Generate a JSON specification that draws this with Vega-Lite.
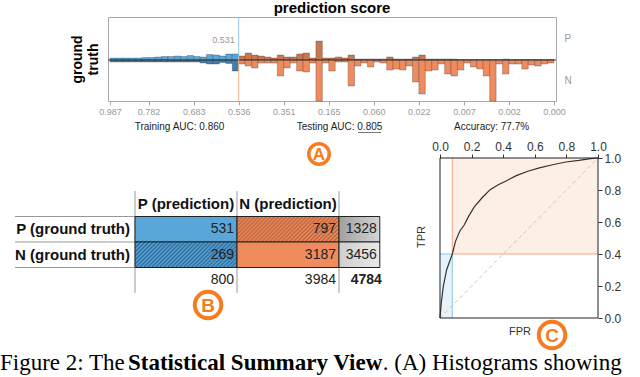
{
"$schema": "https://vega.github.io/schema/vega-lite/v6.json",
"background": "white",
"padding": 0,
"spacing": 2,
"config": {"font": "Liberation Sans", "view": {"stroke": null}},
"datasets": {
"hist": [
{"bin_start":0,"bin_end":1,"outcome":"TP","signed_count":2},{"bin_start":0,"bin_end":1,"outcome":"FP","signed_count":-2},
{"bin_start":1,"bin_end":2,"outcome":"TP","signed_count":2},{"bin_start":1,"bin_end":2,"outcome":"FP","signed_count":-2},
{"bin_start":2,"bin_end":3,"outcome":"TP","signed_count":2},{"bin_start":2,"bin_end":3,"outcome":"FP","signed_count":-2},
{"bin_start":3,"bin_end":4,"outcome":"TP","signed_count":2},{"bin_start":3,"bin_end":4,"outcome":"FP","signed_count":-2},
{"bin_start":4,"bin_end":5,"outcome":"TP","signed_count":2},{"bin_start":4,"bin_end":5,"outcome":"FP","signed_count":-2},
{"bin_start":5,"bin_end":6,"outcome":"TP","signed_count":2.5},{"bin_start":5,"bin_end":6,"outcome":"FP","signed_count":-2},
{"bin_start":6,"bin_end":7,"outcome":"TP","signed_count":2.5},{"bin_start":6,"bin_end":7,"outcome":"FP","signed_count":-2},
{"bin_start":7,"bin_end":8,"outcome":"TP","signed_count":3},{"bin_start":7,"bin_end":8,"outcome":"FP","signed_count":-2},
{"bin_start":8,"bin_end":9,"outcome":"TP","signed_count":3.5},{"bin_start":8,"bin_end":9,"outcome":"FP","signed_count":-2},
{"bin_start":9,"bin_end":10,"outcome":"TP","signed_count":3.5},{"bin_start":9,"bin_end":10,"outcome":"FP","signed_count":-2},
{"bin_start":10,"bin_end":11,"outcome":"TP","signed_count":4},{"bin_start":10,"bin_end":11,"outcome":"FP","signed_count":-2},
{"bin_start":11,"bin_end":12,"outcome":"TP","signed_count":3.5},{"bin_start":11,"bin_end":12,"outcome":"FP","signed_count":-2},
{"bin_start":12,"bin_end":13,"outcome":"TP","signed_count":4.5},{"bin_start":12,"bin_end":13,"outcome":"FP","signed_count":-2},
{"bin_start":13,"bin_end":14,"outcome":"TP","signed_count":3.5},{"bin_start":13,"bin_end":14,"outcome":"FP","signed_count":-2},
{"bin_start":14,"bin_end":15,"outcome":"TP","signed_count":3},{"bin_start":14,"bin_end":15,"outcome":"FP","signed_count":-3},
{"bin_start":15,"bin_end":16,"outcome":"TP","signed_count":5.5},{"bin_start":15,"bin_end":16,"outcome":"FP","signed_count":-4},
{"bin_start":16,"bin_end":17,"outcome":"TP","signed_count":5},{"bin_start":16,"bin_end":17,"outcome":"FP","signed_count":-4},
{"bin_start":17,"bin_end":18,"outcome":"TP","signed_count":4},{"bin_start":17,"bin_end":18,"outcome":"FP","signed_count":-2.5},
{"bin_start":18,"bin_end":19,"outcome":"TP","signed_count":6},{"bin_start":18,"bin_end":19,"outcome":"FP","signed_count":-3.5},
{"bin_start":19,"bin_end":20,"outcome":"TP","signed_count":6},{"bin_start":19,"bin_end":20,"outcome":"FP","signed_count":-11},
{"bin_start":20,"bin_end":21,"outcome":"FN","signed_count":4},{"bin_start":20,"bin_end":21,"outcome":"TN","signed_count":-4},
{"bin_start":21,"bin_end":22,"outcome":"FN","signed_count":7},{"bin_start":21,"bin_end":22,"outcome":"TN","signed_count":-6},
{"bin_start":22,"bin_end":23,"outcome":"FN","signed_count":5},{"bin_start":22,"bin_end":23,"outcome":"TN","signed_count":-8},
{"bin_start":23,"bin_end":24,"outcome":"FN","signed_count":4},{"bin_start":23,"bin_end":24,"outcome":"TN","signed_count":-3},
{"bin_start":24,"bin_end":25,"outcome":"FN","signed_count":3},{"bin_start":24,"bin_end":25,"outcome":"TN","signed_count":-3},
{"bin_start":25,"bin_end":26,"outcome":"FN","signed_count":2},{"bin_start":25,"bin_end":26,"outcome":"TN","signed_count":-3},
{"bin_start":26,"bin_end":27,"outcome":"FN","signed_count":5},{"bin_start":26,"bin_end":27,"outcome":"TN","signed_count":-16},
{"bin_start":27,"bin_end":28,"outcome":"FN","signed_count":3},{"bin_start":27,"bin_end":28,"outcome":"TN","signed_count":-8},
{"bin_start":28,"bin_end":29,"outcome":"FN","signed_count":3},{"bin_start":28,"bin_end":29,"outcome":"TN","signed_count":-3},
{"bin_start":29,"bin_end":30,"outcome":"FN","signed_count":6},{"bin_start":29,"bin_end":30,"outcome":"TN","signed_count":-11},
{"bin_start":30,"bin_end":31,"outcome":"FN","signed_count":7},{"bin_start":30,"bin_end":31,"outcome":"TN","signed_count":-12},
{"bin_start":31,"bin_end":32,"outcome":"FN","signed_count":2},{"bin_start":31,"bin_end":32,"outcome":"TN","signed_count":-3},
{"bin_start":32,"bin_end":33,"outcome":"FN","signed_count":19},{"bin_start":32,"bin_end":33,"outcome":"TN","signed_count":-41},
{"bin_start":33,"bin_end":34,"outcome":"FN","signed_count":2},{"bin_start":33,"bin_end":34,"outcome":"TN","signed_count":-3},
{"bin_start":34,"bin_end":35,"outcome":"FN","signed_count":2},{"bin_start":34,"bin_end":35,"outcome":"TN","signed_count":-11},
{"bin_start":35,"bin_end":36,"outcome":"FN","signed_count":3},{"bin_start":35,"bin_end":36,"outcome":"TN","signed_count":-2},
{"bin_start":36,"bin_end":37,"outcome":"FN","signed_count":2},{"bin_start":36,"bin_end":37,"outcome":"TN","signed_count":-2},
{"bin_start":37,"bin_end":38,"outcome":"FN","signed_count":5},{"bin_start":37,"bin_end":38,"outcome":"TN","signed_count":-26},
{"bin_start":38,"bin_end":39,"outcome":"FN","signed_count":1},{"bin_start":38,"bin_end":39,"outcome":"TN","signed_count":-6},
{"bin_start":39,"bin_end":40,"outcome":"FN","signed_count":1},{"bin_start":39,"bin_end":40,"outcome":"TN","signed_count":-3},
{"bin_start":40,"bin_end":41,"outcome":"FN","signed_count":1},{"bin_start":40,"bin_end":41,"outcome":"TN","signed_count":-7},
{"bin_start":41,"bin_end":42,"outcome":"FN","signed_count":1},{"bin_start":41,"bin_end":42,"outcome":"TN","signed_count":-2},
{"bin_start":42,"bin_end":43,"outcome":"FN","signed_count":1},{"bin_start":42,"bin_end":43,"outcome":"TN","signed_count":-3},
{"bin_start":43,"bin_end":44,"outcome":"FN","signed_count":3},{"bin_start":43,"bin_end":44,"outcome":"TN","signed_count":-10},
{"bin_start":44,"bin_end":45,"outcome":"FN","signed_count":1},{"bin_start":44,"bin_end":45,"outcome":"TN","signed_count":-9},
{"bin_start":45,"bin_end":46,"outcome":"FN","signed_count":1},{"bin_start":45,"bin_end":46,"outcome":"TN","signed_count":-10},
{"bin_start":46,"bin_end":47,"outcome":"FN","signed_count":1},{"bin_start":46,"bin_end":47,"outcome":"TN","signed_count":-6},
{"bin_start":47,"bin_end":48,"outcome":"FN","signed_count":3},{"bin_start":47,"bin_end":48,"outcome":"TN","signed_count":-22},
{"bin_start":48,"bin_end":49,"outcome":"FN","signed_count":5},{"bin_start":48,"bin_end":49,"outcome":"TN","signed_count":-34},
{"bin_start":49,"bin_end":50,"outcome":"FN","signed_count":1},{"bin_start":49,"bin_end":50,"outcome":"TN","signed_count":-11},
{"bin_start":50,"bin_end":51,"outcome":"FN","signed_count":1},{"bin_start":50,"bin_end":51,"outcome":"TN","signed_count":-10},
{"bin_start":51,"bin_end":52,"outcome":"FN","signed_count":1},{"bin_start":51,"bin_end":52,"outcome":"TN","signed_count":-4},
{"bin_start":52,"bin_end":53,"outcome":"FN","signed_count":1},{"bin_start":52,"bin_end":53,"outcome":"TN","signed_count":-14},
{"bin_start":53,"bin_end":54,"outcome":"FN","signed_count":1},{"bin_start":53,"bin_end":54,"outcome":"TN","signed_count":-16},
{"bin_start":54,"bin_end":55,"outcome":"FN","signed_count":0.5},{"bin_start":54,"bin_end":55,"outcome":"TN","signed_count":-10},
{"bin_start":55,"bin_end":56,"outcome":"FN","signed_count":0.5},{"bin_start":55,"bin_end":56,"outcome":"TN","signed_count":-3},
{"bin_start":56,"bin_end":57,"outcome":"FN","signed_count":0.5},{"bin_start":56,"bin_end":57,"outcome":"TN","signed_count":-7},
{"bin_start":57,"bin_end":58,"outcome":"FN","signed_count":0.5},{"bin_start":57,"bin_end":58,"outcome":"TN","signed_count":-9},
{"bin_start":58,"bin_end":59,"outcome":"FN","signed_count":0.5},{"bin_start":58,"bin_end":59,"outcome":"TN","signed_count":-16},
{"bin_start":59,"bin_end":60,"outcome":"FN","signed_count":0.5},{"bin_start":59,"bin_end":60,"outcome":"TN","signed_count":-41},
{"bin_start":60,"bin_end":61,"outcome":"FN","signed_count":0.5},{"bin_start":60,"bin_end":61,"outcome":"TN","signed_count":-4},
{"bin_start":61,"bin_end":62,"outcome":"FN","signed_count":1},{"bin_start":61,"bin_end":62,"outcome":"TN","signed_count":-14},
{"bin_start":62,"bin_end":63,"outcome":"FN","signed_count":0.5},{"bin_start":62,"bin_end":63,"outcome":"TN","signed_count":-4},
{"bin_start":63,"bin_end":64,"outcome":"FN","signed_count":0.5},{"bin_start":63,"bin_end":64,"outcome":"TN","signed_count":-4},
{"bin_start":64,"bin_end":65,"outcome":"FN","signed_count":0.5},{"bin_start":64,"bin_end":65,"outcome":"TN","signed_count":-9},
{"bin_start":65,"bin_end":66,"outcome":"FN","signed_count":0.5},{"bin_start":65,"bin_end":66,"outcome":"TN","signed_count":-5},
{"bin_start":66,"bin_end":67,"outcome":"FN","signed_count":0.5},{"bin_start":66,"bin_end":67,"outcome":"TN","signed_count":-6},
{"bin_start":67,"bin_end":68,"outcome":"FN","signed_count":0.5},{"bin_start":67,"bin_end":68,"outcome":"TN","signed_count":-4},
{"bin_start":68,"bin_end":69,"outcome":"FN","signed_count":0.5},{"bin_start":68,"bin_end":69,"outcome":"TN","signed_count":-3}
],
"matrix": [
{"truth":"P","pred":"P","row":0,"col":1,"count":531},
{"truth":"P","pred":"N","row":0,"col":2,"count":797},
{"truth":"P","pred":"total","row":0,"col":3,"count":1328},
{"truth":"N","pred":"P","row":1,"col":1,"count":269},
{"truth":"N","pred":"N","row":1,"col":2,"count":3187},
{"truth":"N","pred":"total","row":1,"col":3,"count":3456},
{"truth":"total","pred":"P","row":2,"col":1,"count":800},
{"truth":"total","pred":"N","row":2,"col":2,"count":3984},
{"truth":"total","pred":"total","row":2,"col":3,"count":4784}
],
"roc": [
{"fpr":0,"tpr":0},{"fpr":0.008,"tpr":0.094},{"fpr":0.021,"tpr":0.198},{"fpr":0.042,"tpr":0.302},{"fpr":0.078,"tpr":0.4},{"fpr":0.098,"tpr":0.479},{"fpr":0.125,"tpr":0.542},{"fpr":0.154,"tpr":0.583},{"fpr":0.181,"tpr":0.635},{"fpr":0.217,"tpr":0.694},{"fpr":0.265,"tpr":0.75},{"fpr":0.317,"tpr":0.802},{"fpr":0.369,"tpr":0.833},{"fpr":0.421,"tpr":0.858},{"fpr":0.483,"tpr":0.89},{"fpr":0.556,"tpr":0.917},{"fpr":0.629,"tpr":0.938},{"fpr":0.713,"tpr":0.958},{"fpr":0.796,"tpr":0.975},{"fpr":0.879,"tpr":0.985},{"fpr":0.952,"tpr":0.996},{"fpr":1,"tpr":1}
]
},
"vconcat": [
{
"width": 448, "height": 84,
"title": {"text": "prediction score", "fontSize": 15, "fontWeight": "bold", "color": "#000", "offset": 1},
"view": {"stroke": "#a8a8a8"},
"data": {"name": "hist"},
"layer": [
{"mark": {"type": "bar", "stroke": "#333", "strokeWidth": 0.6, "strokeOpacity": 0.5},
 "encoding": {
  "x": {"field": "bin_start", "type": "quantitative", "scale": {"domain": [-0.31, 69.31], "nice": false, "zero": false},
        "axis": {"values": [0,6,13,20,27,34,41,48,55,62,69], "labelExpr": "['0.987','0.782','0.683','0.536','0.351','0.165','0.060','0.022','0.007','0.002','0.000'][indexof([0,6,13,20,27,34,41,48,55,62,69], datum.value)]", "title": null, "grid": false, "domain": false, "tickColor": "#aaa", "tickSize": 4, "labelColor": "#999", "labelFontSize": 9, "labelPadding": 2, "labelFlush": false}},
  "x2": {"field": "bin_end"},
  "y": {"field": "signed_count", "type": "quantitative", "scale": {"domain": [-41, 43], "nice": false},
        "axis": {"title": ["ground", "truth"], "labels": false, "ticks": false, "domain": false, "grid": false, "titleFontSize": 14, "titleFontWeight": "bold", "titleColor": "#000", "titlePadding": 8, "minExtent": 0, "titleLineHeight": 16}},
  "y2": {"datum": 0},
  "color": {"field": "outcome", "type": "nominal", "scale": {"domain": ["TP","FP","FN","TN"], "range": ["#5aa6d8","#3e7fb0","#c9774f","#f08b5d"]}, "legend": null}
 }},
{"data": {"values": [{}]}, "mark": {"type": "rule", "color": "#333", "strokeWidth": 1},
 "encoding": {"y": {"datum": 0, "type": "quantitative", "axis": {"orient": "right", "values": [21.5, -20], "labelExpr": "datum.value > 0 ? 'P' : 'N'", "title": null, "ticks": false, "domain": false, "grid": false, "labelColor": "#999", "labelFontSize": 10, "labelPadding": 8, "minExtent": 0}}}},
{"data": {"values": [{}]}, "mark": {"type": "rule", "color": "#93c9ec", "strokeWidth": 1},
 "encoding": {"x": {"datum": 20, "type": "quantitative", "axis": null}, "y": {"datum": 0, "type": "quantitative", "axis": null}, "y2": {"datum": 43}}},
{"data": {"values": [{}]}, "mark": {"type": "rule", "color": "#f7b08e", "strokeWidth": 1},
 "encoding": {"x": {"datum": 20, "type": "quantitative", "axis": null}, "y": {"datum": -41, "type": "quantitative", "axis": null}, "y2": {"datum": 0}}},
{"data": {"values": [{}]}, "mark": {"type": "text", "text": "0.531", "align": "right", "baseline": "middle", "dx": -4, "fontSize": 9, "color": "#999"},
 "encoding": {"x": {"datum": 20, "type": "quantitative", "axis": null}, "y": {"datum": 20, "type": "quantitative", "axis": null}}},
{"data": {"values": [{}]}, "mark": {"type": "text", "text": "Training AUC:  0.860", "align": "center", "baseline": "middle", "fontSize": 10, "color": "#222"},
 "encoding": {"x": {"datum": 10.8, "type": "quantitative", "axis": null}, "y": {"datum": -67, "type": "quantitative", "axis": null}}},
{"data": {"values": [{}]}, "mark": {"type": "text", "text": "Testing AUC:  0.805", "align": "center", "baseline": "middle", "fontSize": 10, "color": "#222"},
 "encoding": {"x": {"datum": 35.67, "type": "quantitative", "axis": null}, "y": {"datum": -67, "type": "quantitative", "axis": null}}},
{"data": {"values": [{}]}, "mark": {"type": "rule", "color": "#555", "strokeWidth": 0.8},
 "encoding": {"x": {"datum": 38.54, "type": "quantitative", "axis": null}, "x2": {"datum": 42.11}, "y": {"datum": -72.5, "type": "quantitative", "axis": null}}},
{"data": {"values": [{}]}, "mark": {"type": "text", "text": "Accuracy:  77.7%", "align": "center", "baseline": "middle", "fontSize": 10, "color": "#222"},
 "encoding": {"x": {"datum": 59.3, "type": "quantitative", "axis": null}, "y": {"datum": -67, "type": "quantitative", "axis": null}}}
],
"resolve": {"axis": {"x": "independent", "y": "independent"}}
},
{
"width": 490, "height": 160,
"layer": [
{"data": {"name": "matrix"},
 "layer": [
  {"data": {"values": [{}]}, "mark": {"type": "rule", "color": "#999", "strokeWidth": 1},
   "encoding": {"x": {"datum": -1.17647, "type": "quantitative", "scale": {"domain": [-0.264706, 4.539216], "nice": false, "zero": false}, "axis": null}, "x2": {"datum": 2.4}, "y": {"datum": -0.5, "type": "quantitative", "scale": {"domain": [-2.79412, 3.48039], "nice": false, "zero": false, "reverse": true}, "axis": null}}},
  {"data": {"values": [{}]}, "mark": {"type": "rule", "color": "#999", "strokeWidth": 1},
   "encoding": {"x": {"datum": -1.17647, "type": "quantitative", "scale": {"domain": [-0.264706, 4.539216], "nice": false, "zero": false}, "axis": null}, "x2": {"datum": 2.4}, "y": {"datum": 0.5, "type": "quantitative", "scale": {"domain": [-2.79412, 3.48039], "nice": false, "zero": false, "reverse": true}, "axis": null}}},
  {"data": {"values": [{}]}, "mark": {"type": "rule", "color": "#999", "strokeWidth": 1},
   "encoding": {"x": {"datum": -1.17647, "type": "quantitative", "scale": {"domain": [-0.264706, 4.539216], "nice": false, "zero": false}, "axis": null}, "x2": {"datum": 2.4}, "y": {"datum": 1.5, "type": "quantitative", "scale": {"domain": [-2.79412, 3.48039], "nice": false, "zero": false, "reverse": true}, "axis": null}}},
  {"data": {"values": [{}]}, "mark": {"type": "rule", "color": "#999", "strokeWidth": 1},
   "encoding": {"x": {"datum": 0, "type": "quantitative", "scale": {"domain": [-0.264706, 4.539216], "nice": false, "zero": false}, "axis": null}, "y": {"datum": -1.5, "type": "quantitative", "scale": {"domain": [-2.79412, 3.48039], "nice": false, "zero": false, "reverse": true}, "axis": null}, "y2": {"datum": 2.5}}},
  {"data": {"values": [{}]}, "mark": {"type": "rule", "color": "#999", "strokeWidth": 1},
   "encoding": {"x": {"datum": 1, "type": "quantitative", "scale": {"domain": [-0.264706, 4.539216], "nice": false, "zero": false}, "axis": null}, "y": {"datum": -1.5, "type": "quantitative", "scale": {"domain": [-2.79412, 3.48039], "nice": false, "zero": false, "reverse": true}, "axis": null}, "y2": {"datum": 2.5}}},
  {"data": {"values": [{}]}, "mark": {"type": "rule", "color": "#999", "strokeWidth": 1},
   "encoding": {"x": {"datum": 2, "type": "quantitative", "scale": {"domain": [-0.264706, 4.539216], "nice": false, "zero": false}, "axis": null}, "y": {"datum": -1.5, "type": "quantitative", "scale": {"domain": [-2.79412, 3.48039], "nice": false, "zero": false, "reverse": true}, "axis": null}, "y2": {"datum": 2.5}}},
  {"data": {"values": [{}]}, "mark": {"type": "rect", "fill": "#5aa6d8", "stroke": "#222", "strokeWidth": 1},
   "encoding": {"x": {"datum": 0, "type": "quantitative", "scale": {"domain": [-0.264706, 4.539216], "nice": false, "zero": false}, "axis": null}, "x2": {"datum": 1}, "y": {"datum": -0.5, "type": "quantitative", "scale": {"domain": [-2.79412, 3.48039], "nice": false, "zero": false, "reverse": true}, "axis": null}, "y2": {"datum": 0.5}}},
  {"data": {"values": [{}]}, "mark": {"type": "rect", "stroke": "#222", "strokeWidth": 1,
     "fill": {"gradient": "linear", "x1": 0, "y1": 0, "x2": 1.176, "y2": 0.294, "stops": [{"offset":0,"color":"#f08b5d"},{"offset":0.015625,"color":"#b9663f"},{"offset":0.03125,"color":"#f08b5d"},{"offset":0.046875,"color":"#b9663f"},{"offset":0.0625,"color":"#f08b5d"},{"offset":0.078125,"color":"#b9663f"},{"offset":0.09375,"color":"#f08b5d"},{"offset":0.109375,"color":"#b9663f"},{"offset":0.125,"color":"#f08b5d"},{"offset":0.140625,"color":"#b9663f"},{"offset":0.15625,"color":"#f08b5d"},{"offset":0.171875,"color":"#b9663f"},{"offset":0.1875,"color":"#f08b5d"},{"offset":0.203125,"color":"#b9663f"},{"offset":0.21875,"color":"#f08b5d"},{"offset":0.234375,"color":"#b9663f"},{"offset":0.25,"color":"#f08b5d"},{"offset":0.265625,"color":"#b9663f"},{"offset":0.28125,"color":"#f08b5d"},{"offset":0.296875,"color":"#b9663f"},{"offset":0.3125,"color":"#f08b5d"},{"offset":0.328125,"color":"#b9663f"},{"offset":0.34375,"color":"#f08b5d"},{"offset":0.359375,"color":"#b9663f"},{"offset":0.375,"color":"#f08b5d"},{"offset":0.390625,"color":"#b9663f"},{"offset":0.40625,"color":"#f08b5d"},{"offset":0.421875,"color":"#b9663f"},{"offset":0.4375,"color":"#f08b5d"},{"offset":0.453125,"color":"#b9663f"},{"offset":0.46875,"color":"#f08b5d"},{"offset":0.484375,"color":"#b9663f"},{"offset":0.5,"color":"#f08b5d"},{"offset":0.515625,"color":"#b9663f"},{"offset":0.53125,"color":"#f08b5d"},{"offset":0.546875,"color":"#b9663f"},{"offset":0.5625,"color":"#f08b5d"},{"offset":0.578125,"color":"#b9663f"},{"offset":0.59375,"color":"#f08b5d"},{"offset":0.609375,"color":"#b9663f"},{"offset":0.625,"color":"#f08b5d"},{"offset":0.640625,"color":"#b9663f"},{"offset":0.65625,"color":"#f08b5d"},{"offset":0.671875,"color":"#b9663f"},{"offset":0.6875,"color":"#f08b5d"},{"offset":0.703125,"color":"#b9663f"},{"offset":0.71875,"color":"#f08b5d"},{"offset":0.734375,"color":"#b9663f"},{"offset":0.75,"color":"#f08b5d"},{"offset":0.765625,"color":"#b9663f"},{"offset":0.78125,"color":"#f08b5d"},{"offset":0.796875,"color":"#b9663f"},{"offset":0.8125,"color":"#f08b5d"},{"offset":0.828125,"color":"#b9663f"},{"offset":0.84375,"color":"#f08b5d"},{"offset":0.859375,"color":"#b9663f"},{"offset":0.875,"color":"#f08b5d"},{"offset":0.890625,"color":"#b9663f"},{"offset":0.90625,"color":"#f08b5d"},{"offset":0.921875,"color":"#b9663f"},{"offset":0.9375,"color":"#f08b5d"},{"offset":0.953125,"color":"#b9663f"},{"offset":0.96875,"color":"#f08b5d"},{"offset":0.984375,"color":"#b9663f"},{"offset":1,"color":"#f08b5d"}]}},
   "encoding": {"x": {"datum": 1, "type": "quantitative", "scale": {"domain": [-0.264706, 4.539216], "nice": false, "zero": false}, "axis": null}, "x2": {"datum": 2}, "y": {"datum": -0.5, "type": "quantitative", "scale": {"domain": [-2.79412, 3.48039], "nice": false, "zero": false, "reverse": true}, "axis": null}, "y2": {"datum": 0.5}}},
  {"data": {"values": [{}]}, "mark": {"type": "rect", "stroke": "#222", "strokeWidth": 1,
     "fill": {"gradient": "linear", "x1": 0, "y1": 0, "x2": 1.176, "y2": 0.294, "stops": [{"offset":0,"color":"#5aa6d8"},{"offset":0.015625,"color":"#2c6a98"},{"offset":0.03125,"color":"#5aa6d8"},{"offset":0.046875,"color":"#2c6a98"},{"offset":0.0625,"color":"#5aa6d8"},{"offset":0.078125,"color":"#2c6a98"},{"offset":0.09375,"color":"#5aa6d8"},{"offset":0.109375,"color":"#2c6a98"},{"offset":0.125,"color":"#5aa6d8"},{"offset":0.140625,"color":"#2c6a98"},{"offset":0.15625,"color":"#5aa6d8"},{"offset":0.171875,"color":"#2c6a98"},{"offset":0.1875,"color":"#5aa6d8"},{"offset":0.203125,"color":"#2c6a98"},{"offset":0.21875,"color":"#5aa6d8"},{"offset":0.234375,"color":"#2c6a98"},{"offset":0.25,"color":"#5aa6d8"},{"offset":0.265625,"color":"#2c6a98"},{"offset":0.28125,"color":"#5aa6d8"},{"offset":0.296875,"color":"#2c6a98"},{"offset":0.3125,"color":"#5aa6d8"},{"offset":0.328125,"color":"#2c6a98"},{"offset":0.34375,"color":"#5aa6d8"},{"offset":0.359375,"color":"#2c6a98"},{"offset":0.375,"color":"#5aa6d8"},{"offset":0.390625,"color":"#2c6a98"},{"offset":0.40625,"color":"#5aa6d8"},{"offset":0.421875,"color":"#2c6a98"},{"offset":0.4375,"color":"#5aa6d8"},{"offset":0.453125,"color":"#2c6a98"},{"offset":0.46875,"color":"#5aa6d8"},{"offset":0.484375,"color":"#2c6a98"},{"offset":0.5,"color":"#5aa6d8"},{"offset":0.515625,"color":"#2c6a98"},{"offset":0.53125,"color":"#5aa6d8"},{"offset":0.546875,"color":"#2c6a98"},{"offset":0.5625,"color":"#5aa6d8"},{"offset":0.578125,"color":"#2c6a98"},{"offset":0.59375,"color":"#5aa6d8"},{"offset":0.609375,"color":"#2c6a98"},{"offset":0.625,"color":"#5aa6d8"},{"offset":0.640625,"color":"#2c6a98"},{"offset":0.65625,"color":"#5aa6d8"},{"offset":0.671875,"color":"#2c6a98"},{"offset":0.6875,"color":"#5aa6d8"},{"offset":0.703125,"color":"#2c6a98"},{"offset":0.71875,"color":"#5aa6d8"},{"offset":0.734375,"color":"#2c6a98"},{"offset":0.75,"color":"#5aa6d8"},{"offset":0.765625,"color":"#2c6a98"},{"offset":0.78125,"color":"#5aa6d8"},{"offset":0.796875,"color":"#2c6a98"},{"offset":0.8125,"color":"#5aa6d8"},{"offset":0.828125,"color":"#2c6a98"},{"offset":0.84375,"color":"#5aa6d8"},{"offset":0.859375,"color":"#2c6a98"},{"offset":0.875,"color":"#5aa6d8"},{"offset":0.890625,"color":"#2c6a98"},{"offset":0.90625,"color":"#5aa6d8"},{"offset":0.921875,"color":"#2c6a98"},{"offset":0.9375,"color":"#5aa6d8"},{"offset":0.953125,"color":"#2c6a98"},{"offset":0.96875,"color":"#5aa6d8"},{"offset":0.984375,"color":"#2c6a98"},{"offset":1,"color":"#5aa6d8"}]}},
   "encoding": {"x": {"datum": 0, "type": "quantitative", "scale": {"domain": [-0.264706, 4.539216], "nice": false, "zero": false}, "axis": null}, "x2": {"datum": 1}, "y": {"datum": 0.5, "type": "quantitative", "scale": {"domain": [-2.79412, 3.48039], "nice": false, "zero": false, "reverse": true}, "axis": null}, "y2": {"datum": 1.5}}},
  {"data": {"values": [{}]}, "mark": {"type": "rect", "fill": "#f08b5d", "stroke": "#222", "strokeWidth": 1},
   "encoding": {"x": {"datum": 1, "type": "quantitative", "scale": {"domain": [-0.264706, 4.539216], "nice": false, "zero": false}, "axis": null}, "x2": {"datum": 2}, "y": {"datum": 0.5, "type": "quantitative", "scale": {"domain": [-2.79412, 3.48039], "nice": false, "zero": false, "reverse": true}, "axis": null}, "y2": {"datum": 1.5}}},
  {"data": {"values": [{}]}, "mark": {"type": "rect", "stroke": "#222", "strokeWidth": 1, "fill": {"gradient": "linear", "x1": 0, "y1": 0, "x2": 1, "y2": 0, "stops": [{"offset": 0, "color": "#a0a0a0"}, {"offset": 1, "color": "#d4d4d4"}]}},
   "encoding": {"x": {"datum": 2, "type": "quantitative", "scale": {"domain": [-0.264706, 4.539216], "nice": false, "zero": false}, "axis": null}, "x2": {"datum": 2.4}, "y": {"datum": -0.5, "type": "quantitative", "scale": {"domain": [-2.79412, 3.48039], "nice": false, "zero": false, "reverse": true}, "axis": null}, "y2": {"datum": 0.5}}},
  {"data": {"values": [{}]}, "mark": {"type": "rect", "stroke": "#222", "strokeWidth": 1, "fill": {"gradient": "linear", "x1": 0, "y1": 0, "x2": 1, "y2": 0, "stops": [{"offset": 0, "color": "#cfcfcf"}, {"offset": 1, "color": "#e8e8e8"}]}},
   "encoding": {"x": {"datum": 2, "type": "quantitative", "scale": {"domain": [-0.264706, 4.539216], "nice": false, "zero": false}, "axis": null}, "x2": {"datum": 2.4}, "y": {"datum": 0.5, "type": "quantitative", "scale": {"domain": [-2.79412, 3.48039], "nice": false, "zero": false, "reverse": true}, "axis": null}, "y2": {"datum": 1.5}}},
  {"transform": [{"filter": "datum.col <= 2"}],
   "mark": {"type": "text", "align": "right", "baseline": "middle", "dx": -3, "fontSize": 14, "color": "#222"},
   "encoding": {"x": {"field": "col", "type": "quantitative", "scale": {"domain": [-0.264706, 4.539216], "nice": false, "zero": false}, "axis": null}, "y": {"field": "row", "type": "quantitative", "scale": {"domain": [-2.79412, 3.48039], "nice": false, "zero": false, "reverse": true}, "axis": null}, "text": {"field": "count", "type": "quantitative", "format": "d"}}},
  {"transform": [{"filter": "datum.col == 3 && datum.row < 2"}],
   "mark": {"type": "text", "align": "right", "baseline": "middle", "dx": -3, "fontSize": 14, "color": "#222"},
   "encoding": {"x": {"datum": 2.4, "type": "quantitative", "scale": {"domain": [-0.264706, 4.539216], "nice": false, "zero": false}, "axis": null}, "y": {"field": "row", "type": "quantitative", "scale": {"domain": [-2.79412, 3.48039], "nice": false, "zero": false, "reverse": true}, "axis": null}, "text": {"field": "count", "type": "quantitative", "format": "d"}}},
  {"transform": [{"filter": "datum.col == 3 && datum.row == 2"}],
   "mark": {"type": "text", "align": "right", "baseline": "middle", "dx": 2, "fontSize": 14, "fontWeight": "bold", "color": "#222"},
   "encoding": {"x": {"datum": 2.4, "type": "quantitative", "scale": {"domain": [-0.264706, 4.539216], "nice": false, "zero": false}, "axis": null}, "y": {"field": "row", "type": "quantitative", "scale": {"domain": [-2.79412, 3.48039], "nice": false, "zero": false, "reverse": true}, "axis": null}, "text": {"field": "count", "type": "quantitative", "format": "d"}}},
  {"data": {"values": [{}]}, "mark": {"type": "text", "text": "P (prediction)", "align": "center", "baseline": "middle", "fontSize": 15, "fontWeight": "bold", "color": "#111"},
   "encoding": {"x": {"datum": 0.5, "type": "quantitative", "scale": {"domain": [-0.264706, 4.539216], "nice": false, "zero": false}, "axis": null}, "y": {"datum": -1, "type": "quantitative", "scale": {"domain": [-2.79412, 3.48039], "nice": false, "zero": false, "reverse": true}, "axis": null}}},
  {"data": {"values": [{}]}, "mark": {"type": "text", "text": "N (prediction)", "align": "center", "baseline": "middle", "fontSize": 15, "fontWeight": "bold", "color": "#111"},
   "encoding": {"x": {"datum": 1.5, "type": "quantitative", "scale": {"domain": [-0.264706, 4.539216], "nice": false, "zero": false}, "axis": null}, "y": {"datum": -1, "type": "quantitative", "scale": {"domain": [-2.79412, 3.48039], "nice": false, "zero": false, "reverse": true}, "axis": null}}},
  {"data": {"values": [{}]}, "mark": {"type": "text", "text": "P (ground truth)", "align": "right", "baseline": "middle", "dx": -5, "fontSize": 15, "fontWeight": "bold", "color": "#111"},
   "encoding": {"x": {"datum": 0, "type": "quantitative", "scale": {"domain": [-0.264706, 4.539216], "nice": false, "zero": false}, "axis": null}, "y": {"datum": 0, "type": "quantitative", "scale": {"domain": [-2.79412, 3.48039], "nice": false, "zero": false, "reverse": true}, "axis": null}}},
  {"data": {"values": [{}]}, "mark": {"type": "text", "text": "N (ground truth)", "align": "right", "baseline": "middle", "dx": -5, "fontSize": 15, "fontWeight": "bold", "color": "#111"},
   "encoding": {"x": {"datum": 0, "type": "quantitative", "scale": {"domain": [-0.264706, 4.539216], "nice": false, "zero": false}, "axis": null}, "y": {"datum": 1, "type": "quantitative", "scale": {"domain": [-2.79412, 3.48039], "nice": false, "zero": false, "reverse": true}, "axis": null}}},
  {"data": {"values": [{}]}, "mark": {"type": "point", "shape": "circle", "filled": false, "stroke": "#f57c20", "strokeWidth": 3.5, "size": 420, "opacity": 1},
   "encoding": {"x": {"datum": 1.804, "type": "quantitative", "scale": {"domain": [-0.264706, 4.539216], "nice": false, "zero": false}, "axis": null}, "y": {"datum": -2.95, "type": "quantitative", "scale": {"domain": [-2.79412, 3.48039], "nice": false, "zero": false, "reverse": true}, "axis": null}}},
  {"data": {"values": [{}]}, "mark": {"type": "text", "text": "A", "align": "center", "baseline": "middle", "dy": 1, "fontSize": 17, "fontWeight": "bold", "color": "#f57c20"},
   "encoding": {"x": {"datum": 1.804, "type": "quantitative", "scale": {"domain": [-0.264706, 4.539216], "nice": false, "zero": false}, "axis": null}, "y": {"datum": -2.95, "type": "quantitative", "scale": {"domain": [-2.79412, 3.48039], "nice": false, "zero": false, "reverse": true}, "axis": null}}},
  {"data": {"values": [{}]}, "mark": {"type": "point", "shape": "circle", "filled": false, "stroke": "#f57c20", "strokeWidth": 4, "size": 702, "opacity": 1},
   "encoding": {"x": {"datum": 0.716, "type": "quantitative", "scale": {"domain": [-0.264706, 4.539216], "nice": false, "zero": false}, "axis": null}, "y": {"datum": 2.97, "type": "quantitative", "scale": {"domain": [-2.79412, 3.48039], "nice": false, "zero": false, "reverse": true}, "axis": null}}},
  {"data": {"values": [{}]}, "mark": {"type": "text", "text": "B", "align": "center", "baseline": "middle", "dy": 1, "fontSize": 19, "fontWeight": "bold", "color": "#f57c20"},
   "encoding": {"x": {"datum": 0.716, "type": "quantitative", "scale": {"domain": [-0.264706, 4.539216], "nice": false, "zero": false}, "axis": null}, "y": {"datum": 2.97, "type": "quantitative", "scale": {"domain": [-2.79412, 3.48039], "nice": false, "zero": false, "reverse": true}, "axis": null}}}
 ]},
{"layer": [
  {"data": {"values": [{}]}, "mark": {"type": "rect", "fill": "#fdeee6"},
   "encoding": {"x": {"datum": 0.0778, "type": "quantitative", "scale": {"domain": [-2.101266, 1], "nice": false, "zero": false}, "axis": null}, "x2": {"datum": 1}, "y": {"datum": 0.4, "type": "quantitative", "scale": {"domain": [0, 1], "nice": false}, "axis": null}, "y2": {"datum": 1}}},
  {"data": {"values": [{}]}, "mark": {"type": "rect", "fill": "#e8f2fa"},
   "encoding": {"x": {"datum": 0, "type": "quantitative", "scale": {"domain": [-2.101266, 1], "nice": false, "zero": false}, "axis": null}, "x2": {"datum": 0.0778}, "y": {"datum": 0, "type": "quantitative", "scale": {"domain": [0, 1], "nice": false}, "axis": null}, "y2": {"datum": 0.4}}},
  {"data": {"values": [{}]}, "mark": {"type": "rule", "color": "#c8c8c8", "strokeDash": [4, 3], "strokeWidth": 1},
   "encoding": {"x": {"datum": 0, "type": "quantitative", "scale": {"domain": [-2.101266, 1], "nice": false, "zero": false}, "axis": null}, "x2": {"datum": 1}, "y": {"datum": 0, "type": "quantitative", "scale": {"domain": [0, 1], "nice": false}, "axis": null}, "y2": {"datum": 1}}},
  {"data": {"values": [{}]}, "mark": {"type": "rule", "color": "#f5a57f", "strokeWidth": 1},
   "encoding": {"x": {"datum": 0.0778, "type": "quantitative", "scale": {"domain": [-2.101266, 1], "nice": false, "zero": false}, "axis": null}, "y": {"datum": 0.4, "type": "quantitative", "scale": {"domain": [0, 1], "nice": false}, "axis": null}, "y2": {"datum": 1}}},
  {"data": {"values": [{}]}, "mark": {"type": "rule", "color": "#f5a57f", "strokeWidth": 1},
   "encoding": {"x": {"datum": 0.0778, "type": "quantitative", "scale": {"domain": [-2.101266, 1], "nice": false, "zero": false}, "axis": null}, "x2": {"datum": 1}, "y": {"datum": 0.4, "type": "quantitative", "scale": {"domain": [0, 1], "nice": false}, "axis": null}}},
  {"data": {"values": [{}]}, "mark": {"type": "rule", "color": "#8dc3e8", "strokeWidth": 1},
   "encoding": {"x": {"datum": 0.0778, "type": "quantitative", "scale": {"domain": [-2.101266, 1], "nice": false, "zero": false}, "axis": null}, "y": {"datum": 0, "type": "quantitative", "scale": {"domain": [0, 1], "nice": false}, "axis": null}, "y2": {"datum": 0.4}}},
  {"data": {"values": [{}]}, "mark": {"type": "rule", "color": "#8dc3e8", "strokeWidth": 1},
   "encoding": {"x": {"datum": 0, "type": "quantitative", "scale": {"domain": [-2.101266, 1], "nice": false, "zero": false}, "axis": null}, "x2": {"datum": 0.0778}, "y": {"datum": 0.4, "type": "quantitative", "scale": {"domain": [0, 1], "nice": false}, "axis": null}}},
  {"data": {"name": "roc"}, "mark": {"type": "line", "color": "#333", "strokeWidth": 1.2},
   "encoding": {
     "x": {"field": "fpr", "type": "quantitative", "scale": {"domain": [-2.101266, 1], "nice": false, "zero": false},
           "axis": {"orient": "top", "values": [0, 0.2, 0.4, 0.6, 0.8, 1], "format": ".1f", "title": null, "domain": false, "grid": false, "tickColor": "#333", "tickSize": 4, "labelColor": "#333", "labelFontSize": 12, "labelPadding": 1, "labelFlush": false}},
     "y": {"field": "tpr", "type": "quantitative", "scale": {"domain": [0, 1], "nice": false},
           "axis": {"orient": "right", "values": [0, 0.2, 0.4, 0.6, 0.8, 1], "format": ".1f", "title": null, "domain": false, "grid": false, "tickColor": "#333", "tickSize": 4, "labelColor": "#333", "labelFontSize": 12, "labelPadding": 2, "labelFlush": false}}}},
  {"data": {"values": [{}]}, "mark": {"type": "rect", "filled": false, "fill": null, "stroke": "#222", "strokeWidth": 1},
   "encoding": {"x": {"datum": 0, "type": "quantitative", "scale": {"domain": [-2.101266, 1], "nice": false, "zero": false}, "axis": null}, "x2": {"datum": 1}, "y": {"datum": 0, "type": "quantitative", "scale": {"domain": [0, 1], "nice": false}, "axis": null}, "y2": {"datum": 1}}},
  {"data": {"values": [{}]}, "mark": {"type": "text", "text": "TPR", "angle": 270, "align": "center", "baseline": "middle", "fontSize": 11, "color": "#333"},
   "encoding": {"x": {"datum": -0.114, "type": "quantitative", "scale": {"domain": [-2.101266, 1], "nice": false, "zero": false}, "axis": null}, "y": {"datum": 0.506, "type": "quantitative", "scale": {"domain": [0, 1], "nice": false}, "axis": null}}},
  {"data": {"values": [{}]}, "mark": {"type": "text", "text": "FPR", "align": "center", "baseline": "middle", "fontSize": 11, "color": "#333"},
   "encoding": {"x": {"datum": 0.506, "type": "quantitative", "scale": {"domain": [-2.101266, 1], "nice": false, "zero": false}, "axis": null}, "y": {"datum": -0.0875, "type": "quantitative", "scale": {"domain": [0, 1], "nice": false}, "axis": null}}},
  {"data": {"values": [{}]}, "mark": {"type": "point", "shape": "circle", "filled": false, "stroke": "#f57c20", "strokeWidth": 4, "size": 702, "opacity": 1},
   "encoding": {"x": {"datum": 0.709, "type": "quantitative", "scale": {"domain": [-2.101266, 1], "nice": false, "zero": false}, "axis": null}, "y": {"datum": -0.106, "type": "quantitative", "scale": {"domain": [0, 1], "nice": false}, "axis": null}}},
  {"data": {"values": [{}]}, "mark": {"type": "text", "text": "C", "align": "center", "baseline": "middle", "dy": 1, "fontSize": 19, "fontWeight": "bold", "color": "#f57c20"},
   "encoding": {"x": {"datum": 0.709, "type": "quantitative", "scale": {"domain": [-2.101266, 1], "nice": false, "zero": false}, "axis": null}, "y": {"datum": -0.106, "type": "quantitative", "scale": {"domain": [0, 1], "nice": false}, "axis": null}}}
 ],
 "resolve": {"axis": {"x": "independent", "y": "independent"}}
},
{"data": {"values": [{}]},
 "layer": [
  {"mark": {"type": "text", "text": "Figure 2:  The", "font": "Liberation Serif", "fontSize": 23, "align": "left", "baseline": "middle", "color": "#000"},
   "encoding": {"x": {"datum": 0, "type": "quantitative", "scale": {"domain": [0.16875, 0.934375], "nice": false, "zero": false}, "axis": null}, "y": {"datum": -0.28125, "type": "quantitative", "scale": {"domain": [0, 1], "nice": false}, "axis": null}}},
  {"mark": {"type": "text", "text": "Statistical  Summary  View", "font": "Liberation Serif", "fontSize": 23, "fontWeight": "bold", "align": "left", "baseline": "middle", "color": "#000"},
   "encoding": {"x": {"datum": 0.2, "type": "quantitative", "scale": {"domain": [0.16875, 0.934375], "nice": false, "zero": false}, "axis": null}, "y": {"datum": -0.28125, "type": "quantitative", "scale": {"domain": [0, 1], "nice": false}, "axis": null}}},
  {"mark": {"type": "text", "text": ".  (A)     Histograms     showing", "font": "Liberation Serif", "fontSize": 23, "align": "left", "baseline": "middle", "color": "#000"},
   "encoding": {"x": {"datum": 0.598, "type": "quantitative", "scale": {"domain": [0.16875, 0.934375], "nice": false, "zero": false}, "axis": null}, "y": {"datum": -0.28125, "type": "quantitative", "scale": {"domain": [0, 1], "nice": false}, "axis": null}}}
 ]}
],
"resolve": {"scale": {"x": "independent", "y": "independent"}}
}
]
}
